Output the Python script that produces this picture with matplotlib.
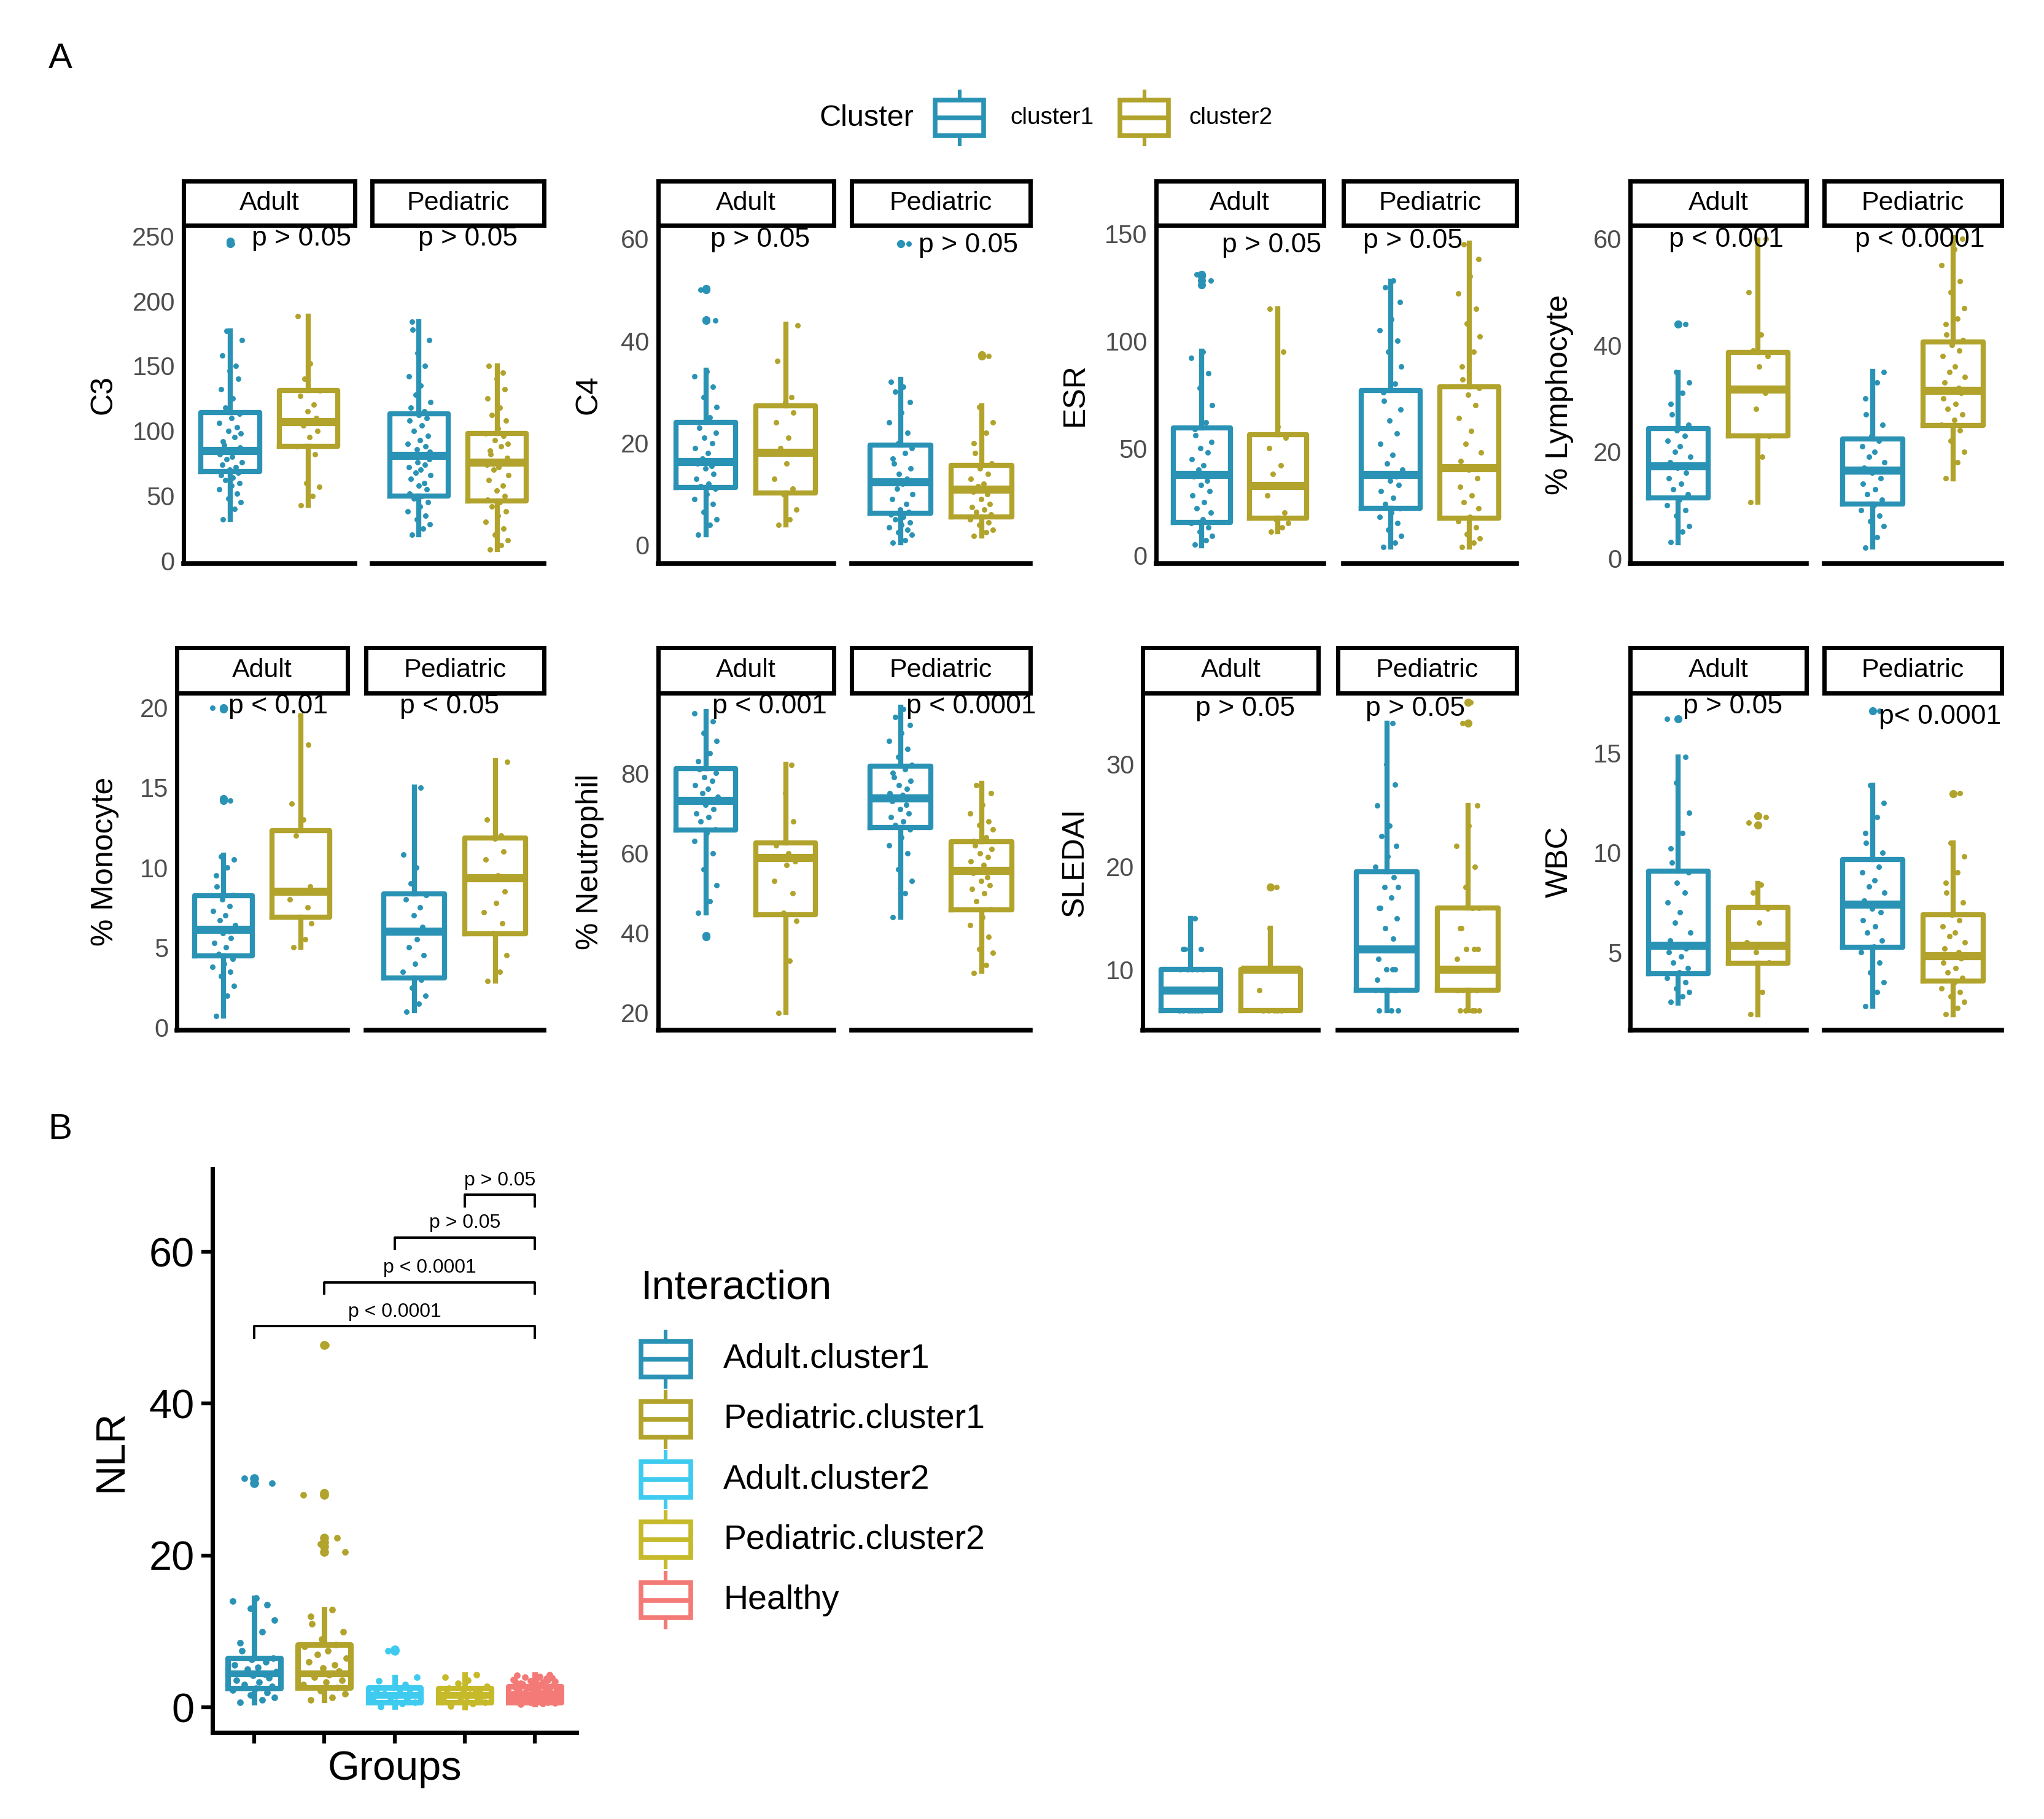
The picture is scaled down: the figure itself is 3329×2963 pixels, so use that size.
import matplotlib
matplotlib.use("Agg")
import matplotlib.pyplot as plt
from matplotlib.patches import Rectangle

plt.rcParams['font.family'] = ['Liberation Sans', 'DejaVu Sans']

# ---------------- data ----------------
# panel A group order: Adult.cluster1, Adult.cluster2, Pediatric.cluster1, Pediatric.cluster2
# box = [lower whisker, q1, median, q3, upper whisker]
variables = ['C3', 'C4', 'ESR', '% Lymphocyte', '% Monocyte', '% Neutrophil', 'SLEDAI', 'WBC']

c3_box = [[32, 69, 85, 114, 177], [43, 88, 107, 131, 188], [20, 50, 81, 113, 184], [9, 46, 76, 98, 150]]
c3_out = [[244, 246], [], [], []]
c3_pts = [[32, 40, 45, 48, 52, 55, 58, 60, 62, 64, 66, 68, 70, 72, 74, 76, 78, 80, 82, 84, 85, 87, 89, 92,
           95, 98, 100, 103, 106, 110, 113, 118, 125, 132, 140, 146, 150, 158, 170, 177, 244],
          [43, 50, 57, 60, 82, 88, 95, 100, 104, 107, 108, 110, 115, 120, 127, 131, 140, 152, 188],
          [20, 25, 28, 32, 35, 38, 42, 45, 48, 50, 52, 55, 58, 60, 63, 66, 68, 70, 72, 74, 76, 78, 80, 81,
           82, 84, 86, 88, 90, 93, 96, 100, 104, 108, 110, 112, 115, 118, 122, 128, 135, 142, 150, 160,
           170, 178, 184],
          [9, 12, 16, 20, 25, 30, 35, 38, 42, 45, 47, 50, 54, 58, 62, 66, 70, 72, 74, 76, 77, 79, 82, 85,
           88, 90, 93, 96, 98, 102, 108, 112, 118, 125, 132, 140, 145, 150]]

c4_box = [[2, 11.3, 16.4, 24, 34.2], [4, 10.2, 18.2, 27.3, 43.3], [0.5, 6.2, 12.4, 19.6, 32.4], [1.8, 5.5, 10.9, 15.6, 27.3]]
c4_out = [[44, 44.1, 50, 50.2], [], [59], [37, 37.2]]
c4_pts = [[2, 4, 5, 6.5, 8, 9, 10, 11, 11.5, 12, 13, 14, 15, 15.5, 16, 16.5, 17, 18, 19, 20, 21, 22, 23,
           24, 25, 27, 29, 31, 33, 34, 44, 50],
          [4, 5, 7, 10, 11, 13, 16, 18, 19, 21, 24, 26, 28, 29, 36, 43],
          [0.5, 1, 2, 2.5, 3, 3.5, 4, 4.5, 5, 5.5, 6, 6.5, 7, 8, 9, 10, 11, 12, 12.5, 13, 14, 15, 16, 17,
           18, 19, 20, 22, 24, 26, 28, 30, 31, 32, 59],
          [1.8, 2.5, 3, 4, 4.5, 5, 5.5, 6, 6.5, 7, 7.5, 8, 9, 10, 10.5, 11, 11.5, 12, 13, 14, 15, 16, 18,
           20, 22, 24, 27, 37]]

esr_box = [[4.7, 15.5, 37.8, 59.5, 95.2], [11, 17.5, 32.7, 56.3, 114.9], [4, 21.9, 37.8, 76.9, 127.6], [4, 17.5, 41, 78.6, 145.5]]
esr_out = [[126, 128, 130, 131], [], [], []]
esr_pts = [[5, 7, 9, 11, 13, 15, 17, 20, 22, 25, 28, 30, 33, 35, 37, 38, 40, 42, 45, 48, 50, 53, 56, 59,
            62, 70, 78, 85, 92, 95, 128, 131],
           [11, 13, 15, 17, 20, 28, 32, 33, 38, 42, 50, 55, 60, 95, 115],
           [4, 6, 9, 12, 15, 18, 20, 22, 24, 27, 30, 33, 35, 37, 38, 40, 43, 47, 52, 57, 63, 68, 72, 76,
            80, 88, 95, 100, 105, 110, 118, 125, 128],
           [4, 6, 8, 10, 13, 16, 18, 22, 25, 28, 32, 36, 40, 41, 44, 48, 52, 58, 64, 70, 75, 78, 82, 88,
            95, 102, 108, 115, 122, 130, 138, 145]]

lym_box = [[2.9, 11.3, 17.3, 24.3, 34.8], [10.5, 23, 31.7, 38.7, 59.7], [2.1, 10.2, 16.5, 22.4, 35.1], [14.9, 24.9, 31.5, 40.6, 60.2]]
lym_out = [[44], [], [], []]
lym_pts = [[3, 5, 6, 8, 9, 10, 11, 12, 13, 14, 15, 16, 17, 17.5, 18, 19, 20, 21, 22, 23, 24, 25, 27, 29,
            31, 33, 35, 44],
           [10.5, 19, 23, 28, 31, 32, 36, 38, 39, 42, 50, 60],
           [2, 4, 6, 7, 8, 9, 10, 11, 12, 13, 14, 15, 16, 16.5, 17, 18, 19, 20, 21, 22, 23, 25, 27, 30, 33, 35],
           [15, 18, 20, 22, 24, 25, 26, 27, 28, 29, 30, 31, 31.5, 32, 33, 34, 35, 36, 38, 39, 40, 41, 42,
            44, 45, 47, 50, 52, 55, 58, 60]]

mono_box = [[0.7, 4.47, 6.14, 8.26, 10.76], [5.0, 6.88, 8.5, 12.33, 19.5], [1.05, 3.09, 6.0, 8.35, 15.05], [2.9, 5.86, 9.37, 11.87, 16.67]]
mono_out = [[14.2, 14.3, 19.9, 20], [], [], []]
mono_pts = [[0.7, 2, 2.6, 3.2, 3.5, 3.8, 4, 4.3, 4.6, 5, 5.3, 5.6, 5.9, 6, 6.2, 6.4, 6.7, 7, 7.3, 7.6, 8,
             8.3, 8.8, 9.5, 10, 10.5, 10.7, 14.2, 20],
            [5, 5.5, 6.5, 6.9, 7.5, 8, 8.5, 8.8, 12, 13, 14, 17.7, 19.5],
            [1, 1.5, 2, 2.5, 3, 3.5, 4, 4.5, 5, 5.5, 6, 6.3, 7, 7.5, 8, 8.3, 9, 10, 10.8, 15],
            [2.9, 3.5, 4.5, 5.9, 6.5, 7.2, 7.8, 8.5, 9.3, 9.5, 10.5, 11, 11.8, 12, 13, 16.6]]

neu_box = [[45.1, 65.7, 73.2, 81.1, 95.4], [20.1, 44.5, 58.9, 62.6, 82.2], [44, 66.4, 73.8, 81.7, 96.5], [30.4, 45.8, 55.7, 62.9, 77.4]]
neu_out = [[39, 39.4], [], [], []]
neu_pts = [[45, 48, 52, 56, 60, 63, 65, 66, 68, 69, 70, 71, 72, 73, 73.5, 74, 75, 76, 77, 78, 79, 80, 81,
            83, 85, 88, 90, 93, 95, 39],
           [20, 33, 43, 45, 50, 53, 57, 58, 59, 60, 62, 68, 75, 82],
           [44, 50, 53, 56, 60, 62, 64, 66, 67, 68, 69, 70, 71, 72, 73, 73.5, 74, 74.5, 75, 76, 77, 78, 79,
            80, 81, 82, 84, 86, 88, 90, 92, 94, 96],
           [30, 32, 35, 36, 39, 42, 44, 46, 48, 50, 51, 52, 53, 54, 55, 55.5, 56, 57, 58, 59, 60, 61, 62, 63,
            64, 66, 67, 68, 70, 72, 75, 77]]

sle_box = [[6, 6, 8, 10, 15], [6, 6, 10, 10, 14], [6, 8, 12, 19.5, 34], [6, 8, 10, 16, 26]]
sle_out = [[], [18], [], [34, 36]]
sle_pts = [[6, 6, 6, 6, 6, 6, 6, 8, 8, 8, 8, 8, 8, 8, 8, 10, 10, 10, 10, 10, 12, 12, 12, 12, 15],
           [6, 6, 6, 6, 6, 8, 10, 10, 10, 10, 10, 10, 14, 18],
           [6, 6, 6, 8, 8, 8, 8, 8, 8, 8, 9, 10, 10, 10, 11, 12, 12, 12, 12, 13, 14, 15, 16, 16, 17, 18, 18,
            19, 20, 21, 22, 23, 24, 26, 28, 30, 34],
           [6, 6, 6, 6, 6, 8, 8, 8, 8, 8, 8, 8, 10, 10, 10, 10, 10, 10, 11, 12, 12, 12, 14, 14, 16, 16, 18,
            20, 22, 24, 26, 34, 36]]

wbc_box = [[2.46, 3.93, 5.34, 9.08, 14.8], [1.86, 4.45, 5.34, 7.26, 8.45], [2.3, 5.24, 7.41, 9.67, 13.4], [1.86, 3.57, 4.82, 6.9, 10.5]]
wbc_out = [[16.7], [11.4, 11.85], [17.1], [12.96]]
wbc_pts = [[2.5, 2.8, 3, 3.2, 3.5, 3.7, 4, 4.2, 4.5, 4.8, 5, 5.2, 5.3, 5.4, 5.6, 6, 6.5, 7, 7.5, 8, 8.5,
            9, 9.5, 10.2, 11, 12, 13.5, 14.8, 16.7],
           [1.9, 3, 4.5, 5, 5.3, 5.5, 6.5, 7.2, 8, 8.4, 11.5, 11.8],
           [2.3, 3, 3.5, 4, 4.5, 5, 5.3, 5.6, 6, 6.3, 6.6, 7, 7.2, 7.4, 7.6, 8, 8.3, 8.6, 9, 9.3, 9.7, 10,
            10.5, 11, 11.8, 12.5, 13.4, 17.1],
           [1.9, 2.2, 2.5, 2.8, 3, 3.2, 3.5, 3.7, 4, 4.2, 4.5, 4.7, 4.8, 5, 5.2, 5.5, 5.8, 6, 6.3, 6.6, 6.9,
            7.5, 8, 8.5, 9, 9.8, 10.5, 13]]

a_boxes = [c3_box, c4_box, esr_box, lym_box, mono_box, neu_box, sle_box, wbc_box]
a_outs = [c3_out, c4_out, esr_out, lym_out, mono_out, neu_out, sle_out, wbc_out]
a_pts = [c3_pts, c4_pts, esr_pts, lym_pts, mono_pts, neu_pts, sle_pts, wbc_pts]
a_yticks = [[0, 50, 100, 150, 200, 250], [0, 20, 40, 60], [0, 50, 100, 150], [0, 20, 40, 60],
            [0, 5, 10, 15, 20], [20, 40, 60, 80], [10, 20, 30], [5, 10, 15]]
p_labels = [['p > 0.05', 'p > 0.05'], ['p > 0.05', 'p > 0.05'], ['p > 0.05', 'p > 0.05'],
            ['p < 0.001', 'p < 0.0001'], ['p < 0.01', 'p < 0.05'], ['p < 0.001', 'p < 0.0001'],
            ['p > 0.05', 'p > 0.05'], ['p > 0.05', 'p< 0.0001']]
facets = ['Adult', 'Pediatric']
clusters = ['cluster1', 'cluster2']

# panel B
groups = ['Adult.cluster1', 'Pediatric.cluster1', 'Adult.cluster2', 'Pediatric.cluster2', 'Healthy']
nlr_box = [[0.7, 2.5, 4.45, 6.5, 14.4], [1, 2.6, 4.45, 8.3, 12.9], [0.1, 0.7, 1.6, 2.6, 4],
           [0, 0.7, 1.6, 2.5, 4.3], [0.4, 0.7, 1.6, 2.8, 4.3]]
nlr_out = [[29.5, 30.2], [20.5, 21.2, 21.8, 22.3, 28, 28.2, 47.7], [7.5, 7.6], [], []]
nlr_pts = [[0.7, 1, 1.3, 1.6, 2, 2.3, 2.5, 2.8, 3, 3.3, 3.6, 3.9, 4.2, 4.4, 4.5, 4.7, 5, 5.3, 5.6, 6, 6.3,
            6.5, 7.5, 8.5, 10, 11.5, 13, 13.5, 14, 14.4, 29.5, 30.2],
           [1, 1.3, 1.8, 2.2, 2.6, 3, 3.3, 3.6, 4, 4.3, 4.5, 4.8, 5.2, 5.6, 6, 6.5, 7, 7.5, 8, 8.3, 9, 10,
            11, 12, 12.9, 20.5, 21.5, 22.3, 28, 47.7],
           [0.1, 0.5, 0.7, 0.9, 1.1, 1.3, 1.5, 1.6, 1.8, 2, 2.2, 2.4, 2.6, 3, 3.5, 4, 7.5],
           [0.2, 0.5, 0.7, 0.9, 1, 1.2, 1.4, 1.5, 1.6, 1.7, 1.9, 2, 2.2, 2.4, 2.5, 2.8, 3.2, 3.6, 4, 4.3],
           [0.4, 0.5, 0.6, 0.7, 0.7, 0.8, 0.8, 0.9, 0.9, 1.0, 1.0, 1.1, 1.1, 1.2, 1.2, 1.3, 1.3, 1.4, 1.4,
            1.5, 1.5, 1.5, 1.6, 1.6, 1.6, 1.7, 1.7, 1.8, 1.8, 1.9, 1.9, 2.0, 2.0, 2.1, 2.1, 2.2, 2.2, 2.3,
            2.4, 2.5, 2.6, 2.7, 2.8, 2.9, 3.0, 3.1, 3.2, 3.3, 3.4, 3.5, 3.6, 3.7, 3.8, 3.9, 4.0, 4.1, 4.2,
            4.3, 1.0, 1.4, 1.8, 2.2, 2.6, 3.0, 3.4, 3.8]]
br_from = [1, 2, 3, 4]
br_to = [5, 5, 5, 5]
br_lab = ['p < 0.0001', 'p < 0.0001', 'p > 0.05', 'p > 0.05']

# ---------------- style / layout ----------------
TEAL = '#2A93B5'
OLIVE = '#B1A32B'
CYAN = '#3FCBEF'
YOLIVE = '#C6B92A'
SALMON = '#F37A76'
cl_cols = [TEAL, OLIVE]
grp_cols = [TEAL, OLIVE, CYAN, YOLIVE, SALMON]
GREY = '#4D4D4D'

jit = [-0.62, 0.35, 0.91, -0.18, 0.57, -0.95, 0.08, 0.78, -0.44, 0.22, -0.80, 0.66,
       -0.05, 0.47, -0.70, 0.99, -0.30, 0.15, -0.88, 0.52, -0.12, 0.84, -0.55]

W, H = 1560.0, 1388.0   # layout grid in reference units


def rect(x0, y0, x1, y1):
    return [x0 / W, 1 - y1 / H, (x1 - x0) / W, (y1 - y0) / H]


a_ylims = [(-2, 258), (-3.6, 62.6), (-3.7, 153.7), (-1, 62.5),
           (-0.16, 20.9), (15.7, 100), (4.1, 36.9), (1.1, 18.0)]
facet_x = [[(140, 271), (284, 415)], [(502, 636), (650, 786)], [(882, 1010), (1025, 1157)],
           [(1244, 1378), (1392, 1527)], [(135, 265), (279, 415)], [(502, 636), (650, 786)],
           [(872, 1006), (1021, 1157)], [(1244, 1378), (1392, 1527)]]
rows_y = [(138, 172, 430), (494, 529, 786)]
title_x = [79, 449, 820, 1190, 80, 450, 820, 1190]
p_pos = [[(230, 182), (357, 182)], [(580, 183), (739, 187)], [(970, 187), (1078, 184)],
         [(1317, 183), (1465, 183)], [(212, 539), (343, 539)], [(587, 539), (741, 539)],
         [(950, 541), (1080, 541)], [(1322, 539), (1480, 547)]]


def draw_box(ax, pos, st, fl, pp, col, lw, mlw, ms, s, jw):
    d = dict(whislo=st[0], q1=st[1], med=st[2], q3=st[3], whishi=st[4], fliers=fl)
    ax.bxp([d], positions=[pos], widths=0.75, showcaps=False,
           boxprops=dict(color=col, lw=lw),
           whiskerprops=dict(color=col, lw=lw),
           medianprops=dict(color=col, lw=mlw, solid_capstyle='butt'),
           flierprops=dict(marker='o', markerfacecolor=col, markeredgecolor=col, markersize=ms))
    xs = [pos + jw * jit[k % len(jit)] for k in range(len(pp))]
    ax.scatter(xs, pp, s=s, color=col, lw=0, zorder=4)


fig = plt.figure(figsize=(33.3, 29.63), dpi=100)

# ---------------- panel A ----------------
for k in range(8):
    sy0, py0, py1 = rows_y[k // 4]
    for f in range(2):
        x0, x1 = facet_x[k][f]
        ax = fig.add_axes(rect(x0, py0, x1, py1))
        for g in range(2):
            gi = 2 * f + g
            draw_box(ax, g + 1, a_boxes[k][gi], a_outs[k][gi], a_pts[k][gi], cl_cols[g],
                     6, 9.5, 8.5, 42, 0.15)
        ax.set_xlim(0.4, 2.6)
        ax.set_ylim(*a_ylims[k])
        ax.set_xticks([])
        ax.set_yticks(a_yticks[k])
        ax.tick_params(axis='y', length=0, pad=10, labelsize=30, labelcolor=GREY)
        for sp in ['top', 'right']:
            ax.spines[sp].set_visible(False)
        ax.spines['bottom'].set_linewidth(5.5)
        if f == 0:
            ax.spines['left'].set_linewidth(5)
        else:
            ax.spines['left'].set_visible(False)
            ax.tick_params(labelleft=False)
        ax.patch.set_alpha(0)

        st = fig.add_axes(rect(x0, sy0, x1, py0))
        st.set_xticks([])
        st.set_yticks([])
        for sp in st.spines.values():
            sp.set_linewidth(5)
        st.text(0.5, 0.5, facets[f], ha='center', va='center', fontsize=31, transform=st.transAxes)

# ---------------- panel B ----------------
axb = fig.add_axes(rect(162, 892, 440, 1322))
for i in range(5):
    draw_box(axb, i + 1, nlr_box[i], nlr_out[i], nlr_pts[i], grp_cols[i], 6.5, 8, 9.5, 60, 0.32)
axb.set_xlim(0.402, 5.598)
axb.set_ylim(-3.3, 70.9)
axb.set_xticks([1, 2, 3, 4, 5])
axb.set_xticklabels([])
axb.set_yticks([0, 20, 40, 60])
axb.tick_params(length=13, width=4.5, labelsize=48, pad=8, labelcolor='black')
for sp in ['top', 'right']:
    axb.spines[sp].set_visible(False)
for sp in ['left', 'bottom']:
    axb.spines[sp].set_linewidth(5)
br_y = [50.2, 56.0, 61.9, 67.5]
for a, b, yv, lab in zip(br_from, br_to, br_y, br_lab):
    axb.plot([a, a, b, b], [yv - 1.5, yv, yv, yv - 1.5], color='black', lw=2.8)
    axb.text((a + b) / 2, yv + 0.7, lab, ha='center', va='bottom', fontsize=23)

# ---------------- overlay: titles, labels, legends ----------------
ov = fig.add_axes([0, 0, 1, 1], zorder=10)
ov.set_xlim(0, W)
ov.set_ylim(H, 0)
ov.axis('off')
ov.patch.set_alpha(0)

ov.text(46, 45, 'A', ha='center', va='center', fontsize=42)
ov.text(46, 862, 'B', ha='center', va='center', fontsize=42)

for k in range(8):
    sy0, py0, py1 = rows_y[k // 4]
    ov.text(title_x[k], (py0 + py1) / 2, variables[k], rotation=90, ha='center', va='center', fontsize=36)
    for f in range(2):
        px, py = p_pos[k][f]
        ov.text(px, py, p_labels[k][f], ha='center', va='center', fontsize=32)

ov.text(301, 1350, 'Groups', ha='center', va='center', fontsize=48)
ov.text(85, 1107, 'NLR', rotation=90, ha='center', va='center', fontsize=48)


def key(cx, cy, col, w=37, h=27, wh=40, lw=5.5):
    ov.add_patch(Rectangle((cx - w / 2, cy - h / 2), w, h, fill=False, edgecolor=col, lw=lw))
    ov.plot([cx - w / 2, cx + w / 2], [cy, cy], color=col, lw=lw, solid_capstyle='butt')
    ov.plot([cx, cx], [cy - wh / 2, cy - h / 2], color=col, lw=lw * 0.8)
    ov.plot([cx, cx], [cy + h / 2, cy + wh / 2], color=col, lw=lw * 0.8)


ov.text(625, 90, 'Cluster', ha='left', va='center', fontsize=35)
for i, (kx, lx) in enumerate(zip([732, 873], [771, 907])):
    key(kx, 90, cl_cols[i])
    ov.text(lx, 90, clusters[i], ha='left', va='center', fontsize=28)

ov.text(489, 983, 'Interaction', ha='left', va='center', fontsize=48)
for i in range(5):
    cy = 1037 + 46 * i
    key(508, cy, grp_cols[i], w=38, h=27, wh=42, lw=5.5)
    ov.text(552, cy, groups[i], ha='left', va='center', fontsize=40)

fig.savefig('out.png', dpi=100)
